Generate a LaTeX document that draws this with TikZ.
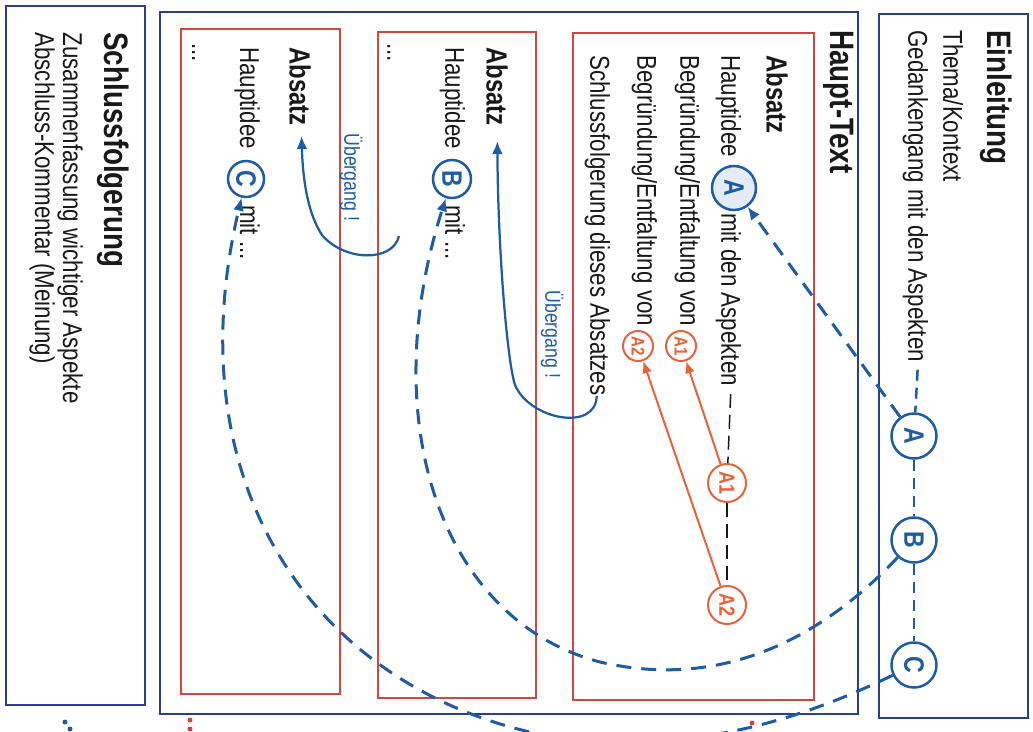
\documentclass[tikz,border=0pt]{standalone}
\usepackage{fontspec}
\setmainfont{Liberation Sans}[FakeStretch=0.82]
\usetikzlibrary{arrows.meta}

\definecolor{rahmenblau}{RGB}{40,64,140}
\definecolor{kblau}{RGB}{30,92,165}
\definecolor{korange}{RGB}{232,98,58}
\definecolor{absatzrot}{RGB}{214,70,62}
\definecolor{schrift}{RGB}{25,25,25}

\newcommand{\fliessfont}{\fontsize{15.5}{18}\selectfont}
\newcommand{\kopffont}{\bfseries\fontsize{19.3}{22}\selectfont}
\newcommand{\absatzfont}{\bfseries\fontsize{16.6}{19}\selectfont}
\newcommand{\uebergfont}{\fontsize{12.3}{14}\selectfont}

\begin{document}
\begin{tikzpicture}[
  x=0.2mm, y=-0.2mm,
  txt/.style={rotate=-90, anchor=west, inner sep=0pt, text=schrift, font=\fliessfont, text height=11.1pt, text depth=0pt},
  kopf/.style={txt, font=\kopffont, text height=13.8pt},
  absatzkopf/.style={txt, font=\absatzfont, text height=11.9pt},
  rahmen/.style={draw=rahmenblau, line width=0.4mm},
  absatzbox/.style={draw=absatzrot, line width=0.35mm},
  kreis/.style={circle, draw=kblau, line width=0.5mm, fill=white, text=kblau, inner sep=0pt, rotate=-90, font=\bfseries\fontsize{16}{16}\selectfont},
  okreis/.style={circle, draw=korange, line width=0.4mm, fill=white, text=korange, inner sep=0pt, rotate=-90, minimum size=6mm, font=\bfseries\fontsize{10.5}{10.5}\selectfont},
  pfeil/.style={-{Latex[length=2.6mm,width=2.2mm]}},
  faden/.style={draw=kblau, line width=0.6mm, dash pattern=on 3mm off 2mm},
  kette/.style={draw=kblau, line width=0.5mm, dash pattern=on 2.2mm off 1.4mm},
  aspline/.style={draw=schrift, line width=0.3mm, dash pattern=on 2.8mm off 1.4mm},
  uebergang/.style={draw=kblau, line width=0.45mm, pfeil},
  oline/.style={draw=korange, line width=0.4mm, -{Latex[length=2.4mm,width=2mm]}}
]
\useasboundingbox (0,0) rectangle (1033,731);
\clip (0,0) rectangle (1033,731);

% EINLEITUNG
\draw[rahmen] (879,14) rectangle (1028,718);
\node[kopf] (einl) at (1000,30) {Einleitung};
\node[txt] (thema) at (953,30) {Thema/Kontext};
\node[txt] (gedank) at (918,30) {Gedankengang mit den Aspekten};
\node[kreis, minimum size=9mm] (eA) at (914,436) {A};
\node[kreis, minimum size=9mm] (eB) at (914,540) {B};
\node[kreis, minimum size=9mm] (eC) at (914,665) {C};
\draw[kette, shorten <=1.5mm] (gedank.east) -- (eA);
\draw[kette] (eA) -- (eB);
\draw[kette] (eB) -- (eC);

% HAUPT-TEXT
\draw[rahmen] (160,12) rectangle (858,714);
\node[kopf] (haupt) at (843,30) {Haupt-Text};

% erster Absatz
\draw[absatzbox] (573,33) rectangle (814,700);
\node[absatzkopf] (abs1) at (777,55) {Absatz};
\node[txt] (hidee1) at (731,55) {Hauptidee};
\node[kreis, minimum size=8.8mm, fill=kblau!12] (hA) at (734,188) {A};
\node[txt] (aspekte) at (731,213) {mit den Aspekten};
\node[txt] (begr1) at (690,55) {Begründung/Entfaltung von};
\node[okreis] (vonA1) at (681,346) {A1};
\node[txt] (begr2) at (647,55) {Begründung/Entfaltung von};
\node[okreis] (vonA2) at (638,346) {A2};
\node[txt] (schluss1) at (600,55) {Schlussfolgerung dieses Absatzes};
\node[okreis, minimum size=7.6mm, font=\bfseries\fontsize{12.5}{12.5}\selectfont] (aspA1) at (727,483) {A1};
\node[okreis, minimum size=7.6mm, font=\bfseries\fontsize{12.5}{12.5}\selectfont] (aspA2) at (727,605) {A2};
\draw[aspline, shorten <=1.5mm] (aspekte.east) -- (aspA1);
\draw[aspline] (aspA1) -- (aspA2);
\draw[oline] (aspA1) -- (vonA1);
\draw[oline] (aspA2) -- (vonA2);

% zweiter Absatz
\draw[absatzbox] (378,32) rectangle (536,698);
\node[absatzkopf] (abs2) at (497,47) {Absatz};
\node[txt] (hidee2) at (455,47) {Hauptidee};
\node[kreis, minimum size=7.6mm] (hB) at (452,179) {B};
\node[txt] (mit2) at (455,205) {mit ...};
\node[txt] (pkt2) at (397,43) {...};

% dritter Absatz
\draw[absatzbox] (181,29) rectangle (340,694);
\node[absatzkopf] (abs3) at (300,47) {Absatz};
\node[txt] (hidee3) at (250,47) {Hauptidee};
\node[kreis, minimum size=7.2mm] (hC) at (246,179) {C};
\node[txt] (mit3) at (250,205) {mit ...};
\node[txt] (pkt3) at (202,43) {...};

% Uebergaenge
\node[txt, font=\uebergfont, text=kblau, text height=8.8pt] (ueb1) at (553,290) {Übergang !};
\node[txt, font=\uebergfont, text=kblau, text height=8.8pt] (ueb2) at (352,133) {Übergang !};
\draw[uebergang, shorten >=3mm] (schluss1) .. controls (596,432) and (530,420) .. (515,385)
  .. controls (507,360) and (498,250) .. (abs2);
\coordinate (ue2start) at (399,236);
\draw[uebergang, shorten >=2mm] (ue2start) .. controls (393,262) and (345,262) .. (322,235)
  .. controls (309,215) and (303,185) .. (abs3);

% SCHLUSSFOLGERUNG
\draw[rahmen] (6,6) rectangle (145,705);
\node[kopf] (schluss) at (117,32) {Schlussfolgerung};
\node[txt] (zusf) at (73,32) {Zusammenfassung wichtiger Aspekte};
\node[txt] (komm) at (45,32) {Abschluss-Kommentar (Meinung)};

% Faeden von der Einleitung zu den Hauptideen
\draw[faden, pfeil] (eA) -- (hA);
\draw[faden, pfeil] (eB) .. controls (820,640) and (720,690) .. (600,662)
  .. controls (440,620) and (375,420) .. (hB);
\draw[faden, pfeil] (eC) .. controls (810,715) and (700,755) .. (560,738)
  .. controls (330,700) and (170,500) .. (hC);

% Fortsetzungspunkte
\fill[absatzrot] (190,720) circle (0.5mm) (190,729) circle (0.5mm);
\fill[absatzrot] (752,723) circle (0.5mm);
\fill[kblau] (65,722) circle (0.5mm) (70,729) circle (0.5mm);
\end{tikzpicture}
\end{document}
